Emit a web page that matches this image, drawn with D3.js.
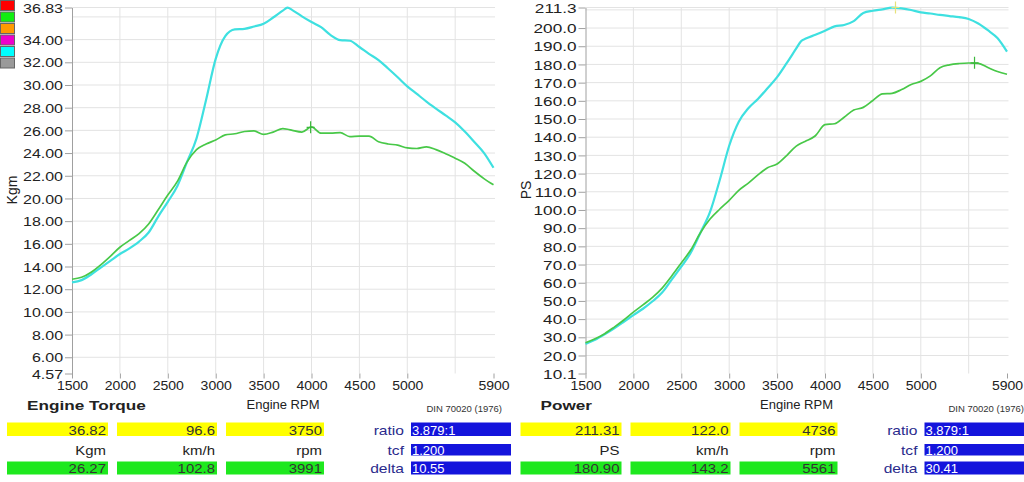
<!DOCTYPE html>
<html>
<head>
<meta charset="utf-8">
<script src="https://cdn.jsdelivr.net/npm/d3@7"></script>
<style>
  body { margin: 0; background: #fff; }
  svg { display: block; font-family: "Liberation Sans", Arial, sans-serif; }
  .grid line { stroke: #e3e3e3; stroke-width: 1; }
  .axis path, .axis line { stroke: #a0a0a0; }
</style>
</head>
<body>
<script>
// Engine speed samples (rpm)
const rpm = [1500, 1600, 1700, 1800, 1900, 2000, 2100, 2200, 2300, 2400,
             2500, 2600, 2700, 2800, 2900, 3000, 3100, 3200, 3300, 3400,
             3500, 3600, 3700, 3750, 3800, 3900, 4000, 4100, 4200, 4300,
             4400, 4500, 4600, 4700, 4800, 4900, 5000, 5100, 5200, 5300,
             5400, 5500, 5600, 5700, 5800, 5900];

// Torque (Kgm), cyan run and green run
const torqueCyan = [12.6, 12.8, 13.3, 13.9, 14.5, 15.1, 15.6, 16.2, 17.0, 18.4,
                    19.7, 21.1, 23.2, 25.3, 28.7, 32.3, 34.3, 34.9, 34.95, 35.15,
                    35.4, 35.95, 36.55, 36.82, 36.6, 36.05, 35.55, 35.1, 34.4, 33.95,
                    33.9, 33.35, 32.75, 32.2, 31.45, 30.68, 29.88, 29.21, 28.54, 27.92,
                    27.32, 26.7, 25.9, 24.98, 24.02, 22.7];
const torqueGreen = [12.88, 13.05, 13.5, 14.15, 14.9, 15.7, 16.3, 16.9, 17.75, 19.0,
                     20.3, 21.5, 23.2, 24.3, 24.8, 25.15, 25.6, 25.7, 25.9, 25.95,
                     25.65, 25.85, 26.15, 26.1, 26.0, 25.85, 26.3, 25.75, 25.75, 25.8,
                     25.45, 25.5, 25.5, 25.0, 24.8, 24.7, 24.45, 24.4, 24.55, 24.3,
                     23.94, 23.55, 23.1, 22.4, 21.75, 21.2];

// Power (PS), same two runs
const powerCyan = [26.4, 28.6, 31.6, 34.9, 38.5, 42.2, 45.7, 49.8, 54.6, 61.7,
                   68.8, 76.6, 87.5, 98.9, 116.2, 135.3, 148.5, 155.9, 161.0, 166.9,
                   173.0, 180.7, 188.8, 192.8, 194.2, 196.3, 198.5, 200.9, 201.7, 203.8,
                   208.3, 209.5, 210.3, 211.2, 210.8, 209.9, 208.6, 208.0, 207.2, 206.6,
                   206.0, 205.0, 202.5, 198.8, 194.5, 187.0];
const powerGreen = [27.0, 29.2, 32.0, 35.6, 39.5, 43.8, 47.8, 51.9, 57.0, 63.7,
                    70.9, 78.1, 87.5, 95.0, 100.4, 105.3, 110.8, 114.8, 119.3, 123.2,
                    125.3, 129.9, 135.1, 136.7, 137.9, 140.8, 146.9, 147.4, 151.0, 154.9,
                    156.4, 160.2, 163.8, 164.1, 166.2, 169.0, 170.7, 173.7, 178.2, 179.8,
                    180.5, 180.8, 180.6, 178.3, 176.1, 174.6];

// Axis ticks and grid
const rpmTicks = [1500, 2000, 2500, 3000, 3500, 4000, 4500, 5000, 5900];
const rpmGrid = [2000, 2500, 3000, 3500, 4000, 4500, 5000, 5500];
const torqueTicks = [4.57, 6, 8, 10, 12, 14, 16, 18, 20, 22, 24, 26, 28, 30, 32, 34, 36.83];
const torqueGrid = [6, 8, 10, 12, 14, 16, 18, 20, 22, 24, 26, 28, 30, 32, 34, 36, 36.83];
const powerTicks = [10.1, 20, 30, 40, 50, 60, 70, 80, 90, 100, 110, 120, 130, 140, 150,
                    160, 170, 180, 190, 200, 211.3];
const powerGrid = [20, 30, 40, 50, 60, 70, 80, 90, 100, 110, 120, 130, 140, 150,
                   160, 170, 180, 190, 200, 210, 211.3];

// Peak markers [rpm, value]
const torquePeakGreen = [3991, 26.27];
const powerPeakGreen = [5561, 180.90];
const powerPeakCyan = [4736, 211.31];

// Readout tables
const infoLabels = ["ratio", "tcf", "delta"];
const torqueTop = ["36.82", "96.6", "3750"];
const torqueUnits = ["Kgm", "km/h", "rpm"];
const torqueBottom = ["26.27", "102.8", "3991"];
const torqueInfo = ["3.879:1", "1.200", "10.55"];
const powerTop = ["211.31", "122.0", "4736"];
const powerUnits = ["PS", "km/h", "rpm"];
const powerBottom = ["180.90", "143.2", "5561"];
const powerInfo = ["3.879:1", "1.200", "30.41"];

const legendColors = ["#ff0000", "#11ee11", "#ff9a00", "#ee00cc", "#00ffff", "#9a9a9a"];

const W = 1024, H = 482;
const yTop = 7.5, yBot = 373.5;
const cyan = "#3ee0e0", green = "#48c848";

const svg = d3.select("body").append("svg")
    .attr("width", W)
    .attr("height", H);

// text with horizontal stretch (the reference text is a bit wide)
function label(g, x, y, str, o = {}) {
  return g.append("text")
    .attr("transform", `translate(${x},${y}) scale(${o.sx || 1},1)`)
    .attr("text-anchor", o.anchor || "start")
    .style("font-size", (o.size || 13) + "px")
    .style("font-weight", o.bold ? "bold" : null)
    .attr("fill", o.fill || "#222")
    .text(str);
}

function drawPanel(p) {
  const ox = p.ox;
  const g = svg.append("g");

  const x = d3.scaleLinear().domain([1500, 5900]).range([ox + 72, ox + 493.5]);
  const y = d3.scaleLinear().domain(p.domain).range([yBot, yTop]);

  // grid
  g.append("g").attr("class", "grid")
    .selectAll("line.h").data(p.grid).enter().append("line")
    .attr("x1", x(1500)).attr("x2", x(5900) + 1.5)
    .attr("y1", d => y(d)).attr("y2", d => y(d));
  g.append("g").attr("class", "grid")
    .selectAll("line.v").data(rpmGrid).enter().append("line")
    .attr("x1", d => x(d)).attr("x2", d => x(d))
    .attr("y1", yTop).attr("y2", yBot);

  // y axis
  const ya = g.append("g").attr("class", "axis")
    .attr("transform", `translate(${x(1500)},0)`)
    .call(d3.axisLeft(y).tickValues(p.ticks).tickSize(7).tickSizeOuter(0)
      .tickFormat(d3.format(p.fmt)));
  ya.selectAll("text")
    .attr("x", -9 / p.sx).attr("dy", "0.36em")
    .attr("transform", `scale(${p.sx},1)`)
    .attr("fill", "#222")
    .style("font-size", "13px")
    .style("font-family", "Liberation Sans, Arial, sans-serif");

  // x axis
  const xa = g.append("g").attr("class", "axis")
    .attr("transform", `translate(0,${yBot})`)
    .call(d3.axisBottom(x).tickValues(rpmTicks).tickSize(5).tickSizeOuter(0)
      .tickFormat(d3.format("d")));
  xa.select(".domain").remove();
  xa.selectAll("text")
    .attr("x", 0).attr("y", 16.8).attr("dy", 0)
    .attr("transform", "scale(1.08,1)")
    .attr("fill", "#222")
    .style("font-size", "13px")
    .style("font-family", "Liberation Sans, Arial, sans-serif");

  // y title
  g.append("text")
    .attr("transform", `translate(${ox + 17},${190}) rotate(-90)`)
    .attr("text-anchor", "middle")
    .style("font-size", "14px")
    .attr("fill", "#222")
    .text(p.yTitle);

  // curves
  const line = d3.line()
    .x(d => x(d[0]))
    .y(d => y(d[1]))
    .curve(d3.curveMonotoneX);

  p.curves.forEach(c => {
    g.append("path")
      .datum(rpm.map((r, i) => [r, c.vals[i]]))
      .attr("fill", "none")
      .attr("stroke", c.color)
      .attr("stroke-width", c.width)
      .attr("stroke-linejoin", "round")
      .attr("d", line);
  });

  // peak markers
  p.marks.forEach(m => {
    const mx = x(m.pt[0]), my = y(m.pt[1]);
    g.append("path")
      .attr("d", `M${mx},${my - 6}V${my + 6}M${mx - 4},${my}H${mx + 4}`)
      .attr("stroke", m.color)
      .attr("stroke-width", 1.2);
  });

  // titles under the chart
  label(g, ox + 27, 409.5, p.title, {bold: true, sx: 1.32});
  label(g, ox + 283, 408.5, "Engine RPM", {anchor: "middle"});
  label(g, p.dinX, 411.5, "DIN 70020 (1976)", {anchor: "end", size: 9.5, fill: "#333"});

  // readout table
  const boxX = [7, 117, 226], boxW = [101, 100, 98];
  boxX.forEach((bx, i) => {
    g.append("rect").attr("x", ox + bx).attr("y", 422.5)
      .attr("width", boxW[i]).attr("height", 13.5).attr("fill", "#ffff00");
    g.append("rect").attr("x", ox + bx).attr("y", 461.5)
      .attr("width", boxW[i]).attr("height", 13).attr("fill", "#1ee81e");
    const rx = ox + bx + boxW[i] - 2;
    label(g, rx, 434.5, p.top[i], {anchor: "end", sx: 1.15, fill: "#333"});
    label(g, rx, 455, p.units[i], {anchor: "end", sx: 1.15});
    label(g, rx, 473, p.bottom[i], {anchor: "end", sx: 1.15, fill: "#333"});
  });

  const infoY = [422.5, 444, 461.5], infoH = [13.5, 11.5, 13], infoBase = [434.5, 454.5, 473];
  infoLabels.forEach((t, i) => {
    label(g, ox + 404, infoBase[i], t, {anchor: "end", sx: 1.2, fill: "#2a2a8c"});
    g.append("rect").attr("x", ox + 411).attr("y", infoY[i])
      .attr("width", 100).attr("height", infoH[i]).attr("fill", "#1414dc");
    label(g, ox + 412, infoBase[i], p.info[i], {fill: "#fff"});
  });
}

drawPanel({
  ox: 0,
  domain: [4.57, 36.83],
  ticks: torqueTicks,
  grid: torqueGrid,
  fmt: ".2f",
  sx: 1.23,
  yTitle: "Kgm",
  title: "Engine Torque",
  dinX: 502,
  curves: [
    {vals: torqueCyan, color: cyan, width: 2.2},
    {vals: torqueGreen, color: green, width: 1.7}
  ],
  marks: [{pt: torquePeakGreen, color: "#3cb83c"}],
  top: torqueTop, units: torqueUnits, bottom: torqueBottom, info: torqueInfo
});

drawPanel({
  ox: 513.5,
  domain: [10.1, 211.3],
  ticks: powerTicks,
  grid: powerGrid,
  fmt: ".1f",
  sx: 1.32,
  yTitle: "PS",
  title: "Power",
  dinX: 1024,
  curves: [
    {vals: powerCyan, color: cyan, width: 2.2},
    {vals: powerGreen, color: green, width: 1.7}
  ],
  marks: [{pt: powerPeakGreen, color: "#3cb83c"}, {pt: powerPeakCyan, color: "#e6e27a"}],
  top: powerTop, units: powerUnits, bottom: powerBottom, info: powerInfo
});

// colour legend swatches, top left
svg.append("g").selectAll("rect")
  .data(legendColors)
  .enter().append("rect")
  .attr("x", 0.5)
  .attr("y", (d, i) => 0.5 + i * 11.5)
  .attr("width", 14)
  .attr("height", 10)
  .attr("fill", d => d)
  .attr("stroke", "#666")
  .attr("stroke-width", 1);
</script>
</body>
</html>
